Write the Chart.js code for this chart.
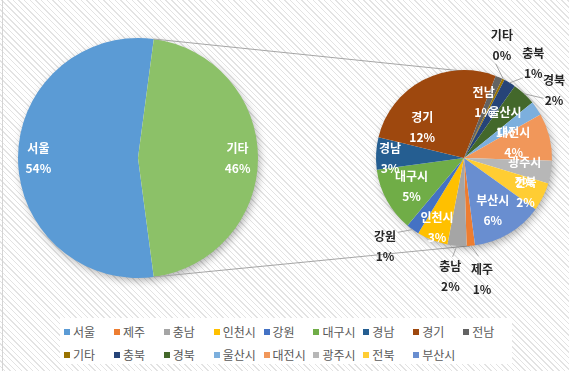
<!DOCTYPE html>
<html lang="ko">
<head>
<meta charset="utf-8">
<script src="https://cdn.jsdelivr.net/npm/chart.js@4.4.1/dist/chart.umd.min.js"></script>
<style>
    html, body { margin: 0; padding: 0; }
    body {
        width: 569px; height: 371px; overflow: hidden; position: relative;
        background: repeating-linear-gradient(45deg, #ffffff 0 3px, #e3e3e3 3px 4px);
        font-family: "Noto Sans CJK KR", sans-serif;
    }
    canvas { position: absolute; left: 0; top: 0; }
    #edge { position: absolute; left: 2px; top: 0; width: 1px; height: 371px; background: #d4d4d4; }
    #legend {
        position: absolute; left: 60px; top: 318px; width: 452px; height: 46px;
        background: #fff; box-sizing: border-box; padding: 2px 0 0 4px;
        display: grid; grid-template-columns: repeat(9, 49.9px); grid-auto-rows: 23px;
        font-size: 12px; color: #595959;
    }
    #legend span { display: flex; align-items: center; white-space: nowrap; }
    #legend i { display: inline-block; width: 6px; height: 6px; margin-right: 3px; }
</style>
</head>
<body>
<div id="edge"></div>
<canvas id="main" width="569" height="371"></canvas>
<canvas id="sub" width="569" height="371"></canvas>
<div id="legend"></div>
<script>
// main pie: 서울 vs the rest
const mainLabels = ['서울', '기타'];
const mainValues = [54.2, 45.8];

// second pie: breakdown of 기타 (% of total)
const regionLabels = ['제주', '충남', '인천시', '강원', '대구시', '경남', '경기', '전남',
    '기타', '충북', '경북', '울산시', '대전시', '광주시', '전북', '부산시'];
const regionValues = [0.7, 1.6, 2.6, 1.1, 5.4, 2.7, 12.4, 0.6, 0.2, 1.0, 2.0, 1.2, 4.0, 1.9, 2.4, 6.0];

const MAIN_COLORS = ['#5B9BD5', '#8CC168'];
const REGION_COLORS = ['#ED7D31', '#A5A5A5', '#FFC000', '#4472C4', '#70AD47', '#255E91',
    '#9E480E', '#636363', '#997300', '#264478', '#43682B', '#7CAFDD', '#F1975A',
    '#B7B7B7', '#FFCD33', '#698ED0'];

Chart.defaults.font.family = '"Noto Sans CJK KR", "Noto Sans", sans-serif';
Chart.defaults.animation = false;

// label placement (radius factor, angle shift in degrees, outside label?)
const MAIN_PLACE = { '서울': { f: 0.83 }, '기타': { f: 0.83 } };
const SUB_PLACE = {
    '제주': { f: 1.39, da: -4, out: true },
    '충남': { f: 1.35, da: 2, out: true },
    '인천시': { f: 0.85 },
    '강원': { f: 1.35, da: 6, out: true },
    '대구시': { f: 0.68 },
    '경남': { f: 0.84, da: -3 },
    '경기': { f: 0.59, da: -26 },
    '전남': { f: 0.67, da: -4 },
    '기타': { f: 1.35, da: -8, out: true },
    '충북': { f: 1.33, da: 5, out: true },
    '경북': { f: 1.28, da: 10, out: true },
    '울산시': { f: 0.62, da: -7 },
    '대전시': { f: 0.59, da: -3 },
    '광주시': { f: 0.71, da: 4 },
    '전북': { f: 0.8, da: 3 },
    '부산시': { f: 0.68, da: 2 },
};

const pieShadow = {
    id: 'pieShadow',
    beforeDatasetsDraw(chart) {
        const arc = chart.getDatasetMeta(0).data[0];
        const p = arc.getProps(['x', 'y', 'outerRadius'], true);
        const ctx = chart.ctx;
        ctx.save();
        ctx.shadowColor = 'rgba(0, 0, 0, 0.35)';
        ctx.shadowBlur = 9;
        ctx.shadowOffsetX = 2;
        ctx.shadowOffsetY = 3;
        ctx.beginPath();
        ctx.arc(p.x, p.y, p.outerRadius - 1, 0, Math.PI * 2);
        ctx.fillStyle = '#fff';
        ctx.fill();
        ctx.restore();
    },
};

const sliceLabels = {
    id: 'sliceLabels',
    afterDatasetsDraw(chart, args, opts) {
        const ctx = chart.ctx;
        const values = chart.data.datasets[0].data;
        chart.getDatasetMeta(0).data.forEach((arc, i) => {
            const p = arc.getProps(['x', 'y', 'startAngle', 'endAngle', 'outerRadius'], true);
            const name = chart.data.labels[i];
            const place = opts.place[name] || { f: 0.65 };
            const mid = (p.startAngle + p.endAngle) / 2;
            const a = mid + (place.da || 0) * Math.PI / 180;
            const r = p.outerRadius;
            const lx = p.x + Math.cos(a) * r * place.f;
            const ly = p.y + Math.sin(a) * r * place.f;
            ctx.save();
            if (place.out) {
                ctx.strokeStyle = '#a6a6a6';
                ctx.lineWidth = 1;
                ctx.beginPath();
                ctx.moveTo(p.x + Math.cos(mid) * r, p.y + Math.sin(mid) * r);
                ctx.lineTo(p.x + Math.cos(a) * r * 1.13, p.y + Math.sin(a) * r * 1.13);
                ctx.stroke();
            }
            ctx.font = 'bold 12px "Noto Sans CJK KR", sans-serif';
            ctx.fillStyle = place.out ? '#262626' : '#ffffff';
            ctx.textAlign = 'center';
            ctx.textBaseline = 'middle';
            ctx.fillText(name, lx, ly - 10);
            ctx.fillText(Math.round(values[i]) + '%', lx, ly + 10);
            ctx.restore();
        });
    },
};

const mainChart = new Chart(document.getElementById('main'), {
    type: 'pie',
    data: {
        labels: mainLabels,
        datasets: [{ data: mainValues, backgroundColor: MAIN_COLORS, borderWidth: 0 }],
    },
    options: {
        responsive: false,
        rotation: 172.45,
        layout: { padding: { left: 18, top: 38, right: 311, bottom: 93 } },
        plugins: {
            legend: { display: false },
            tooltip: { enabled: false },
            sliceLabels: { place: MAIN_PLACE },
        },
    },
    plugins: [pieShadow, sliceLabels],
});

// gray lines from the 기타 slice edges to the second pie
const connectors = {
    id: 'connectors',
    beforeDatasetsDraw(chart) {
        const m = mainChart.getDatasetMeta(0).data[1].getProps(['x', 'y', 'startAngle', 'endAngle', 'outerRadius'], true);
        const s = chart.getDatasetMeta(0).data[0].getProps(['x', 'y', 'outerRadius'], true);
        const ends = [[m.startAngle, 17], [m.endAngle, 176]];
        const ctx = chart.ctx;
        ctx.save();
        ctx.strokeStyle = '#a6a6a6';
        ctx.lineWidth = 1;
        ends.forEach(([ma, sDeg]) => {
            const sa = (sDeg - 90) * Math.PI / 180;
            ctx.beginPath();
            ctx.moveTo(m.x + Math.cos(ma) * m.outerRadius, m.y + Math.sin(ma) * m.outerRadius);
            ctx.lineTo(s.x + Math.cos(sa) * s.outerRadius, s.y + Math.sin(sa) * s.outerRadius);
            ctx.stroke();
        });
        ctx.restore();
    },
};

new Chart(document.getElementById('sub'), {
    type: 'pie',
    data: {
        labels: regionLabels,
        datasets: [{ data: regionValues, backgroundColor: REGION_COLORS, borderWidth: 0 }],
    },
    options: {
        responsive: false,
        rotation: 172.8,
        layout: { padding: { left: 376, top: 70, right: 17, bottom: 125 } },
        plugins: {
            legend: { display: false },
            tooltip: { enabled: false },
            sliceLabels: { place: SUB_PLACE },
        },
    },
    plugins: [connectors, pieShadow, sliceLabels],
});

// legend: 서울 first, then the regions in data order
const legend = document.getElementById('legend');
[[mainLabels[0], MAIN_COLORS[0]]].concat(regionLabels.map((l, i) => [l, REGION_COLORS[i]]))
    .forEach(([label, color]) => {
        const item = document.createElement('span');
        item.innerHTML = '<i style="background:' + color + '"></i>' + label;
        legend.appendChild(item);
    });
</script>
</body>
</html>
